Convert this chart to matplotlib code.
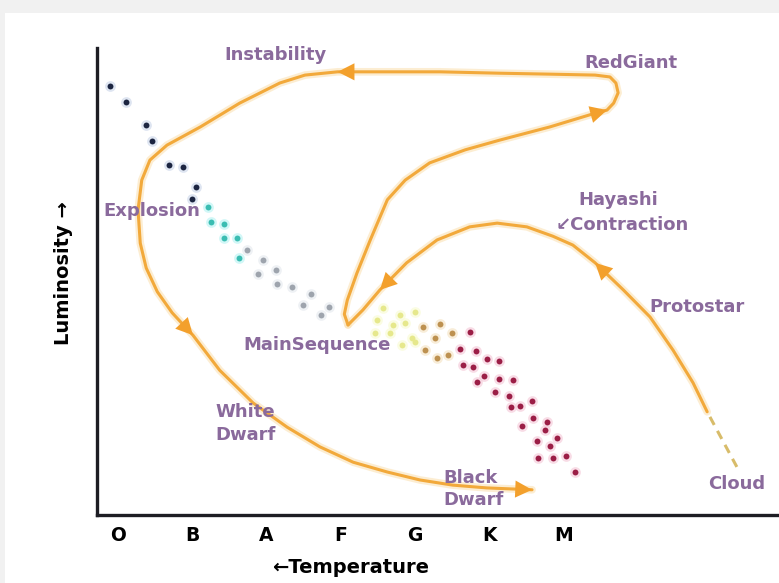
import matplotlib
matplotlib.use("Agg")
import matplotlib.pyplot as plt
from matplotlib.patches import Rectangle

plt.rcParams['font.family'] = ['DejaVu Sans']

# spectral classes along the temperature axis
classes = ['O', 'B', 'A', 'F', 'G', 'K', 'M']

# main sequence stars (class position, luminosity)
navy_x = [-0.11, 0.11, 0.38, 0.46, 0.69, 0.88, 1.05, 1.00]
navy_y = [9.19, 8.84, 8.35, 8.01, 7.49, 7.45, 7.02, 6.77]
cyan_x = [1.21, 1.25, 1.43, 1.43, 1.60, 1.63]
cyan_y = [6.60, 6.27, 6.23, 5.93, 5.93, 5.50]
gray_x = [1.74, 1.95, 1.89, 2.13, 2.14, 2.35, 2.60, 2.49, 2.84, 2.74]
gray_y = [5.67, 5.46, 5.16, 5.25, 4.95, 4.88, 4.73, 4.50, 4.45, 4.28]
yellow_x = [3.57, 3.80, 4.00, 3.49, 3.71, 3.87, 3.46, 3.67, 3.96, 3.83, 4.00]
yellow_y = [4.43, 4.28, 4.35, 4.18, 4.07, 4.11, 3.90, 3.90, 3.79, 3.64, 3.70]
gold_x = [4.11, 4.34, 4.27, 4.50, 4.14, 4.30, 4.45]
gold_y = [4.03, 4.09, 3.79, 3.90, 3.53, 3.36, 3.43]
red_x = [4.74, 4.61, 4.82, 4.97, 5.13, 4.65, 4.78, 4.93, 5.13, 5.32, 4.84, 5.08, 5.27, 5.58,
         5.30, 5.42, 5.59, 5.78, 5.44, 5.75, 5.65, 5.92, 5.82, 5.66, 5.86, 6.04, 6.16]
red_y = [3.92, 3.55, 3.51, 3.34, 3.30, 3.21, 3.17, 2.98, 2.91, 2.89, 2.85, 2.63, 2.55, 2.44,
         2.31, 2.33, 2.08, 1.99, 1.91, 1.82, 1.58, 1.65, 1.48, 1.22, 1.22, 1.26, 0.92]

# cloud collapse (dashed)
cloud_x = [8.34, 7.94]
cloud_y = [1.03, 2.21]

# protostar / Hayashi contraction onto main sequence
hay_x = [7.94, 7.75, 7.48, 7.17, 6.81, 6.43, 6.13, 5.86, 5.51, 5.11, 4.74, 4.30, 3.89, 3.53, 3.30, 3.10]
hay_y = [2.21, 2.83, 3.53, 4.24, 4.82, 5.40, 5.78, 5.97, 6.17, 6.25, 6.17, 5.89, 5.40, 4.82, 4.39, 4.07]
hay_arrows = [5, 13]

# main sequence -> red giant -> instability -> explosion -> white dwarf -> black dwarf
life_x = [3.10, 3.05, 3.09, 3.22, 3.40, 3.63, 3.87, 4.20, 4.68, 5.15, 5.82, 6.36, 6.59, 6.68,
          6.74, 6.71, 6.63, 6.43, 5.82, 5.15, 4.34, 3.53, 2.96, 2.52, 2.18, 1.64, 1.11, 0.66,
          0.43, 0.32, 0.27, 0.30, 0.38, 0.53, 0.73, 1.01, 1.37, 1.82, 2.28, 2.72, 3.17, 3.63,
          4.07, 4.51, 4.97, 5.58]
life_y = [4.07, 4.30, 4.60, 5.18, 5.89, 6.75, 7.17, 7.54, 7.82, 8.03, 8.31, 8.57, 8.67, 8.82,
          9.04, 9.25, 9.38, 9.42, 9.44, 9.46, 9.49, 9.49, 9.49, 9.42, 9.25, 8.82, 8.31, 7.92,
          7.60, 7.17, 6.53, 5.82, 5.29, 4.78, 4.33, 3.85, 3.10, 2.40, 1.88, 1.46, 1.13, 0.92,
          0.75, 0.64, 0.58, 0.54]
life_arrows = [12, 22, 35, 45]

# stage labels: text, x, y, alignment
labels = [
    ('Instability', 2.12, 9.85, 'center'),
    ('RedGiant', 6.91, 9.68, 'center'),
    ('Hayashi', 6.20, 6.75, 'left'),
    ('\u2199Contraction', 5.89, 6.21, 'left'),
    ('Protostar', 7.80, 4.45, 'center'),
    ('Explosion', 0.46, 6.51, 'center'),
    ('MainSequence', 2.68, 3.64, 'center'),
    ('White\nDwarf', 1.31, 1.96, 'left'),
    ('Black\nDwarf', 4.38, 0.55, 'left'),
    ('Cloud', 8.34, 0.66, 'center'),
]

track = '#f2a93b'
halo = '#fbe2b4'
purple = '#8a6a9c'

fig = plt.figure(figsize=(7.79, 5.83), dpi=100, facecolor='#f1f1f1')
fig.patches.append(Rectangle((5 / 779, 0), 1, 570 / 583, transform=fig.transFigure,
                             facecolor='white', edgecolor='none', zorder=-10))
ax = fig.add_axes([97 / 779, 68 / 583, 682 / 779, 467 / 583])
ax.patch.set_visible(False)
ax.set_xlim(-0.283, 8.908)
ax.set_ylim(0, 10)

for s in ['top', 'right']:
    ax.spines[s].set_visible(False)
for s in ['left', 'bottom']:
    ax.spines[s].set_linewidth(2.4)
    ax.spines[s].set_color('#1d1d24')

ax.set_xticks(range(len(classes)), classes)
ax.set_yticks([])
ax.tick_params(axis='x', length=0, pad=8)
for t in ax.get_xticklabels():
    t.set_fontsize(13.5)
    t.set_fontweight('bold')

# stars with soft glow
groups = [
    (navy_x, navy_y, '#1c2541', '#c8d4e8'),
    (cyan_x, cyan_y, '#3bbdb2', '#b4f2f2'),
    (gray_x, gray_y, '#9ea4ad', '#e4e8ee'),
    (yellow_x, yellow_y, '#e6e88c', '#f8fbd0'),
    (gold_x, gold_y, '#bd9150', '#f4e2c0'),
    (red_x, red_y, '#9b1e46', '#f4c6d6'),
]
for gx, gy, c, h in groups:
    ax.scatter(gx, gy, s=60, color=h, alpha=0.6, linewidths=0, zorder=2)
    ax.scatter(gx, gy, s=18, color=c, linewidths=0, zorder=3)

# evolution tracks
for tx, ty in [(hay_x, hay_y), (life_x, life_y)]:
    ax.plot(tx, ty, color=halo, lw=5.5, alpha=0.6, solid_capstyle='round', zorder=4)
    ax.plot(tx, ty, color=track, lw=2.2, solid_capstyle='round', solid_joinstyle='round', zorder=5)
ax.plot(cloud_x, cloud_y, color='#d8bc6a', lw=2.2, ls=(0, (3, 2.2)), zorder=5)

for tx, ty, idx in [(hay_x, hay_y, hay_arrows), (life_x, life_y, life_arrows)]:
    for i in idx:
        ax.annotate('', xy=(tx[i], ty[i]), xytext=(tx[i - 1], ty[i - 1]),
                    arrowprops=dict(arrowstyle='-|>,head_length=0.55,head_width=0.28',
                                    color='#f3a02c', lw=0, mutation_scale=22,
                                    shrinkA=0, shrinkB=0), zorder=6)

for txt, x, y, ha in labels:
    ax.text(x, y, txt, ha=ha, va='center', color=purple, fontsize=13,
            fontweight='bold', linespacing=1.3, zorder=7)

ax.text(3.14, -1.13, '\u2190Temperature', ha='center', va='center', fontsize=14,
        fontweight='bold', color='black', clip_on=False)
ax.text(-0.74, 5.18, 'Luminosity \u2192', ha='center', va='center', rotation=90,
        fontsize=14, fontweight='bold', color='black', clip_on=False)

fig.savefig('out.png', dpi=100, facecolor=fig.get_facecolor())
